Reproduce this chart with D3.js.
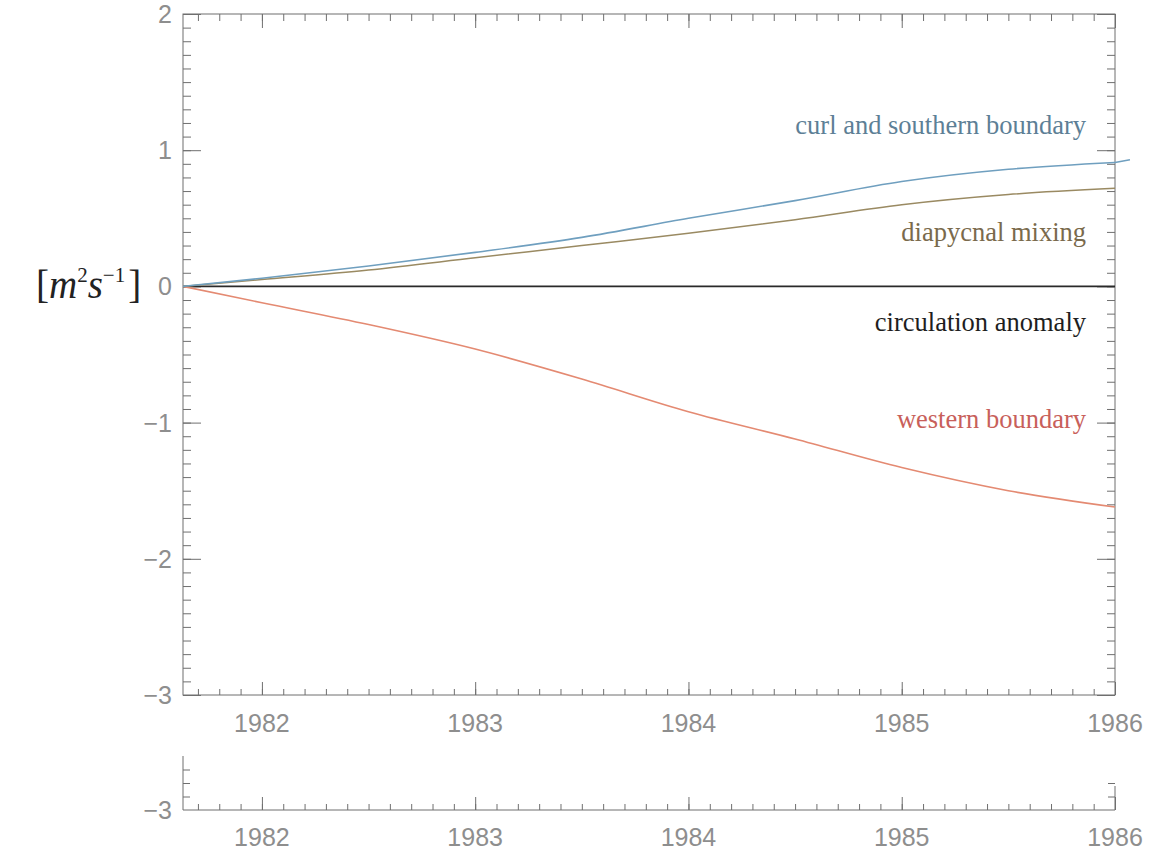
<!DOCTYPE html>
<html>
<head>
<meta charset="utf-8">
<script src="https://cdn.jsdelivr.net/npm/d3@7"></script>
<style>
  html, body { margin: 0; padding: 0; background: #fff; }
  svg { display: block; }
</style>
</head>
<body>
<svg id="chart" width="1156" height="853"></svg>
<script>
// ---- data ----
const years = [1981.63, 1982.0, 1982.5, 1983.0, 1983.5, 1984.0, 1984.5, 1985.0, 1985.5, 1986.0];
const curlSouthern = [0, 0.06, 0.15, 0.25, 0.36, 0.50, 0.63, 0.77, 0.86, 0.91];
const diapycnal   = [0, 0.05, 0.12, 0.21, 0.30, 0.39, 0.49, 0.60, 0.675, 0.72];
const circulation = [0, 0, 0, 0, 0, 0, 0, 0, 0, 0];
const western     = [0, -0.12, -0.28, -0.46, -0.68, -0.92, -1.12, -1.33, -1.50, -1.62];
const curlTail = [[1986.0, 0.91], [1986.07, 0.93]];
const yTickValues = [2, 1, 0, -1, -2, -3];
const yTickLabels = ["2", "1", "0", "\u22121", "\u22122", "\u22123"];
const xTickValues = [1982, 1983, 1984, 1985, 1986];
const xTickLabels = ["1982", "1983", "1984", "1985", "1986"];
const seriesNames = ["curl and southern boundary", "diapycnal mixing", "circulation anomaly", "western boundary"];

// ---- layout ----
const svg = d3.select("#chart");
const L = 183, R = 1115, T = 14, B = 695;
const x = d3.scaleLinear().domain([1981.63, 1986.0]).range([L, R]);
const y = d3.scaleLinear().domain([-3, 2]).range([B, T]);

const axisColor = "#6f6f6f";
const labelColor = "#8e8e8e";

// ---- frame ----
const frame = svg.append("g");
frame.append("rect").attr("x", L).attr("y", T).attr("width", R - L).attr("height", B - T)
  .attr("fill", "none").attr("stroke", axisColor).attr("stroke-width", 1);

const yMinor = d3.range(-30, 21).map(d => d / 10);
const xMinor = d3.range(19817, 19861).map(d => d / 10).filter(d => d >= 1981.63);

function styleAxis(g) {
  g.select(".domain").remove();
  g.selectAll(".tick line").attr("stroke", axisColor).attr("stroke-width", 1);
  g.selectAll(".tick text").remove();
}
// left & right ticks (inward)
svg.append("g").attr("transform", `translate(${L},0)`)
  .call(d3.axisLeft(y).tickValues(yMinor).tickSize(-8)).call(styleAxis);
svg.append("g").attr("transform", `translate(${L},0)`)
  .call(d3.axisLeft(y).tickValues(yTickValues).tickSize(-18)).call(styleAxis);
svg.append("g").attr("transform", `translate(${R},0)`)
  .call(d3.axisRight(y).tickValues(yMinor).tickSize(-8)).call(styleAxis);
svg.append("g").attr("transform", `translate(${R},0)`)
  .call(d3.axisRight(y).tickValues(yTickValues).tickSize(-18)).call(styleAxis);
// bottom & top ticks (inward)
svg.append("g").attr("transform", `translate(0,${B})`)
  .call(d3.axisBottom(x).tickValues(xMinor).tickSize(-6)).call(styleAxis);
svg.append("g").attr("transform", `translate(0,${B})`)
  .call(d3.axisBottom(x).tickValues(xTickValues).tickSize(-13)).call(styleAxis);
svg.append("g").attr("transform", `translate(0,${T})`)
  .call(d3.axisTop(x).tickValues(xMinor).tickSize(-7)).call(styleAxis);
svg.append("g").attr("transform", `translate(0,${T})`)
  .call(d3.axisTop(x).tickValues(xTickValues).tickSize(-14)).call(styleAxis);

// y tick labels
svg.append("g").selectAll("text").data(yTickValues).join("text")
  .attr("x", L - 11).attr("y", d => y(d)).attr("dy", "0.36em")
  .attr("text-anchor", "end")
  .attr("font-family", "Liberation Sans, Arial, sans-serif")
  .attr("font-size", 25).attr("fill", labelColor)
  .text((d, i) => yTickLabels[i]);

// x tick labels
svg.append("g").selectAll("text").data(xTickValues).join("text")
  .attr("x", d => x(d)).attr("y", B + 28).attr("dy", "0.36em")
  .attr("text-anchor", "middle")
  .attr("font-family", "Liberation Sans, Arial, sans-serif")
  .attr("font-size", 25).attr("fill", labelColor)
  .text((d, i) => xTickLabels[i]);

// y unit label [m^2 s^-1]
const unit = svg.append("text").attr("x", 36).attr("y", 298)
  .attr("font-family", "Liberation Serif, Times New Roman, serif")
  .attr("font-size", 39).attr("fill", "#222");
unit.append("tspan").text("[");
unit.append("tspan").attr("font-style", "italic").text("m");
unit.append("tspan").attr("font-size", 21).attr("dy", -16).text("2");
unit.append("tspan").attr("font-style", "italic").attr("dy", 16).text("s");
unit.append("tspan").attr("font-size", 21).attr("dy", -16).text("\u22121");
unit.append("tspan").attr("dy", 16).attr("dx", 3).text("]");

// ---- lines ----
const line = d3.line().x(d => x(d[0])).y(d => y(d[1])).curve(d3.curveMonotoneX);
const series = [
  { vals: circulation, color: "#2a2a2a", w: 1.6 },
  { vals: western, color: "#e48a72", w: 1.6 },
  { vals: diapycnal, color: "#9a8a62", w: 1.5 },
  { vals: curlSouthern, color: "#6f9fbf", w: 1.6 }
];
series.forEach(s => {
  svg.append("path").datum(years.map((t, i) => [t, s.vals[i]]))
    .attr("d", line).attr("fill", "none")
    .attr("stroke", s.color).attr("stroke-width", s.w);
});
svg.append("path").datum(curlTail).attr("d", line).attr("fill", "none")
  .attr("stroke", "#6f9fbf").attr("stroke-width", 1.6);

// ---- series labels ----
const labels = [
  { text: seriesNames[0], yv: 1.12, color: "#5d7f96" },
  { text: seriesNames[1], yv: 0.33, color: "#7a6a4c" },
  { text: seriesNames[2], yv: -0.33, color: "#1e1e1e" },
  { text: seriesNames[3], yv: -1.04, color: "#c8605a" }
];
svg.append("g").selectAll("text").data(labels).join("text")
  .attr("x", 1086).attr("y", d => y(d.yv))
  .attr("text-anchor", "end")
  .attr("font-family", "Liberation Serif, Times New Roman, serif")
  .attr("font-size", 26.5).attr("fill", d => d.color)
  .text(d => d.text);

// ---- duplicated bottom strip (as in the scan) ----
const B2 = 810;
const strip = svg.append("g");
strip.append("line").attr("x1", L).attr("x2", R).attr("y1", B2).attr("y2", B2)
  .attr("stroke", axisColor);
strip.append("line").attr("x1", L).attr("x2", L).attr("y1", 756).attr("y2", B2)
  .attr("stroke", axisColor);
strip.append("line").attr("x1", R).attr("x2", R).attr("y1", 786).attr("y2", B2)
  .attr("stroke", axisColor);
const y2 = d3.scaleLinear().domain([-3, -2.6]).range([B2, 756]);
svg.append("g").attr("transform", `translate(${L},0)`)
  .call(d3.axisLeft(y2).tickValues([-2.9, -2.8, -2.7]).tickSize(-7)).call(styleAxis);
svg.append("g").attr("transform", `translate(${R},0)`)
  .call(d3.axisRight(y2).tickValues([-2.9, -2.8]).tickSize(-7)).call(styleAxis);
svg.append("g").attr("transform", `translate(0,${B2})`)
  .call(d3.axisBottom(x).tickValues(xMinor).tickSize(-6)).call(styleAxis);
svg.append("g").attr("transform", `translate(0,${B2})`)
  .call(d3.axisBottom(x).tickValues(xTickValues).tickSize(-13)).call(styleAxis);
strip.append("text").attr("x", L - 11).attr("y", y2(-3)).attr("dy", "0.36em")
  .attr("text-anchor", "end")
  .attr("font-family", "Liberation Sans, Arial, sans-serif")
  .attr("font-size", 25).attr("fill", labelColor).text(yTickLabels[5]);
strip.append("g").selectAll("text").data(xTickValues).join("text")
  .attr("x", d => x(d)).attr("y", B2 + 27).attr("dy", "0.36em")
  .attr("text-anchor", "middle")
  .attr("font-family", "Liberation Sans, Arial, sans-serif")
  .attr("font-size", 25).attr("fill", labelColor)
  .text((d, i) => xTickLabels[i]);
</script>
</body>
</html>
